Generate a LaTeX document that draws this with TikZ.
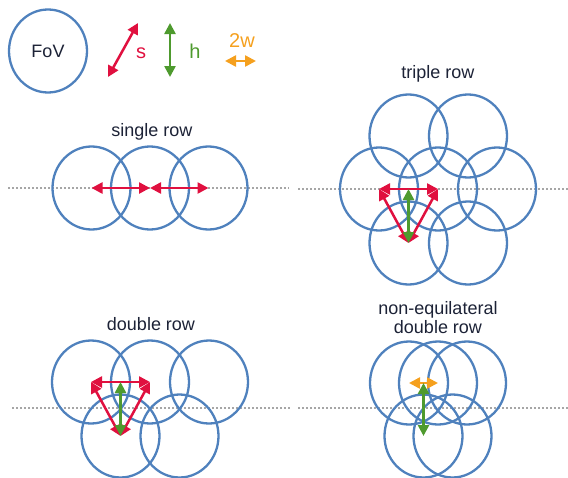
\documentclass[tikz,border=0pt]{standalone}
\usepackage{fontspec}
\setmainfont{Liberation Sans}
\usetikzlibrary{arrows.meta,shapes.geometric}
\definecolor{fovblue}{HTML}{4F81BD}
\definecolor{sred}{HTML}{E0103F}
\definecolor{hgreen}{HTML}{4E9A2E}
\definecolor{worange}{HTML}{F5A01E}
\definecolor{labeltext}{HTML}{1C2236}
\tikzset{
  fov/.style={ellipse, draw=fovblue, line width=2.3pt, minimum width=78pt, minimum height=83pt, inner sep=0pt},
  tip/.style={{Triangle[length=11pt,width=11pt]}-{Triangle[length=11pt,width=11pt]}, line width=2.5pt},
  sarrow/.style={tip, draw=sred, fill=sred},
  harrow/.style={tip, draw=hgreen, fill=hgreen},
  warrow/.style={tip, draw=worange, fill=worange},
  rowline/.style={draw=black!35, line width=2pt, dash pattern=on 2pt off 2pt},
  title/.style={text=labeltext, font=\fontsize{18}{19}\selectfont, anchor=base, align=center},
}
\begin{document}
\begin{tikzpicture}[x=1pt,y=-1pt]
\useasboundingbox (0,0) rectangle (568,477);

% legend
\node[fov, text=labeltext, font=\fontsize{18}{19}\selectfont] (fov) at (48,51) {FoV};
\coordinate (s0) at (108,77);
\coordinate (s1) at (138,23);
\coordinate (h0) at (170,23);
\coordinate (h1) at (170,77);
\coordinate (w0) at (225,61);
\coordinate (w1) at (256,61);
\draw[sarrow] (s0) -- (s1);
\draw[harrow] (h0) -- (h1);
\draw[warrow] (w0) -- (w1);
\node[text=sred, font=\fontsize{20}{20}\selectfont, anchor=base] (slabel) at (141,58) {s};
\node[text=hgreen, font=\fontsize{20}{20}\selectfont, anchor=base] (hlabel) at (195,58) {h};
\node[text=worange, font=\fontsize{20}{20}\selectfont, anchor=base] (wlabel) at (242,47) {2w};

% single row
\coordinate (ra0) at (8,188);
\coordinate (ra1) at (289,188);
\draw[rowline] (ra0) -- (ra1);
\node[title] (single) at (152,136) {single row};
\node[fov] (a1) at (91.5,188) {};
\node[fov] (a2) at (150,188) {};
\node[fov] (a3) at (208.5,188) {};
\draw[sarrow] (a1.center) -- (a2.center);
\draw[sarrow] (a2.center) -- (a3.center);

% triple row
\coordinate (rb0) at (298,189);
\coordinate (rb1) at (568,189);
\draw[rowline] (rb0) -- (rb1);
\node[title] (triple) at (438,78) {triple row};
\node[fov] (b1) at (408.5,136) {};
\node[fov] (b2) at (468,136) {};
\node[fov] (b3) at (379,189) {};
\node[fov] (b4) at (438,189) {};
\node[fov] (b5) at (497,189) {};
\node[fov] (b6) at (408.5,243) {};
\node[fov] (b7) at (468,243) {};
\coordinate (bm) at (408.5,189);
\draw[sarrow] (b3.center) -- (b4.center);
\draw[sarrow] (b3.center) -- (b6.center);
\draw[sarrow] (b4.center) -- (b6.center);
\draw[harrow] (bm) -- (b6.center);

% double row
\coordinate (rc0) at (12,408);
\coordinate (rc1) at (290,408);
\draw[rowline] (rc0) -- (rc1);
\node[title] (double) at (151,330) {double row};
\node[fov] (c1) at (91,382) {};
\node[fov] (c2) at (150,382) {};
\node[fov] (c3) at (209,382) {};
\node[fov] (c4) at (120.5,436) {};
\node[fov] (c5) at (179.5,436) {};
\coordinate (cm) at (120.5,382);
\draw[sarrow] (c1.center) -- (c2.center);
\draw[sarrow] (c1.center) -- (c4.center);
\draw[sarrow] (c2.center) -- (c4.center);
\draw[harrow] (cm) -- (c4.center);

% non-equilateral double row
\coordinate (rd0) at (298,408);
\coordinate (rd1) at (568,408);
\draw[rowline] (rd0) -- (rd1);
\node[title, anchor=center] (nonequi) at (438,318) {non-equilateral\\double row};
\node[fov] (d1) at (409,383) {};
\node[fov] (d2) at (438,383) {};
\node[fov] (d3) at (467,383) {};
\node[fov] (d4) at (423.5,436) {};
\node[fov] (d5) at (452.5,436) {};
\coordinate (dm) at (423.5,383);
\draw[warrow] (d1.center) -- (d2.center);
\draw[harrow] (dm) -- (d4.center);
\end{tikzpicture}
\end{document}
